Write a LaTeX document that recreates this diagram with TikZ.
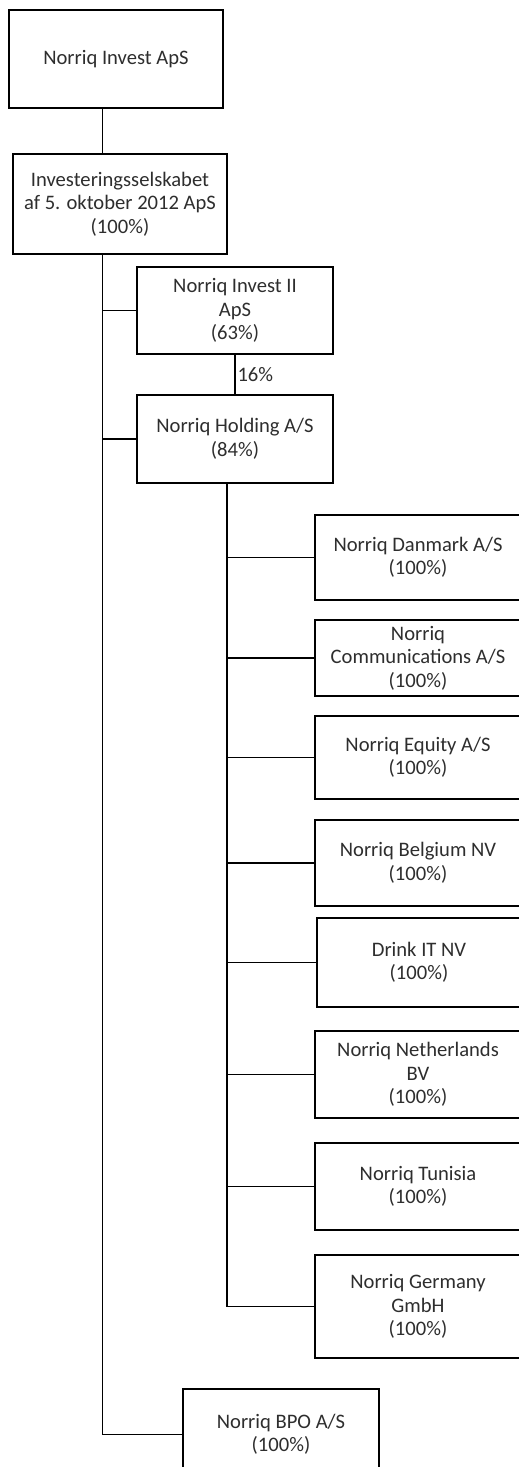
\documentclass[tikz,border=0pt]{standalone}
\usepackage{fontspec}
\setmainfont{Carlito}
\begin{document}
\begin{tikzpicture}[x=1pt,y=-1pt,
  box/.style={draw, line width=1.1pt, align=center, inner sep=0pt,
    font=\fontsize{20.6}{23.5}\selectfont, text=black!82},
  conn/.style={line width=1.1pt}]
\path[use as bounding box, clip] (0,0) rectangle (519,1467);
\fill[white] (0,0) rectangle (519,1467);
\node[box, minimum width=214pt, minimum height=98pt] (n1) at (116,59) {Norriq Invest ApS};
\node[box, minimum width=214pt, minimum height=100pt] (n2) at (120,204) {Investeringsselskabet\\af 5. oktober 2012 ApS\\(100\%)};
\node[box, minimum width=196pt, minimum height=87pt] (n3) at (235,310.5) {Norriq Invest II\\ApS\\(63\%)};
\node[box, minimum width=196pt, minimum height=88pt] (n4) at (235,439) {Norriq Holding A/S\\(84\%)};
\node[box, minimum width=206pt, minimum height=85pt] (dk) at (418,557.5) {Norriq Danmark A/S\\(100\%)};
\node[box, minimum width=206pt, minimum height=76pt] (com) at (418,658) {Norriq\\Communications A/S\\(100\%)};
\node[box, minimum width=206pt, minimum height=83pt] (eq) at (418,757.5) {Norriq Equity A/S\\(100\%)};
\node[box, minimum width=206pt, minimum height=86pt] (be) at (418,863) {Norriq Belgium NV\\(100\%)};
\node[box, minimum width=204pt, minimum height=89pt] (dr) at (419,962.5) {Drink IT NV\\(100\%)};
\node[box, minimum width=206pt, minimum height=87pt] (nl) at (418,1074.5) {Norriq Netherlands\\BV\\(100\%)};
\node[box, minimum width=206pt, minimum height=87pt] (tu) at (418,1186.5) {Norriq Tunisia\\(100\%)};
\node[box, minimum width=206pt, minimum height=103pt] (de) at (418,1306.5) {Norriq Germany\\GmbH\\(100\%)};
\node[box, minimum width=196pt, minimum height=91pt] (bpo) at (281,1434.5) {Norriq BPO A/S\\(100\%)};
\coordinate (t) at (102.5,0);
\coordinate (s) at (227,0);
\draw[conn] (n1.south -| t) -- (n2.north -| t);
\draw[conn] (n2.south -| t) -- (t |- bpo.west) -- (bpo.west);
\draw[conn] (t |- n3.west) -- (n3.west);
\draw[conn] (t |- n4.west) -- (n4.west);
\draw[conn] (n3.south) -- node[right, inner sep=2pt, font=\fontsize{20.6}{23.5}\selectfont, text=black!82] (lab) {16\%} (n4.north);
\draw[conn] (n4.south -| s) -- (s |- de.west) -- (de.west);
\foreach \c in {dk,com,eq,be,dr,nl,tu}{
  \draw[conn] (s |- \c.west) -- (\c.west);
}
\end{tikzpicture}
\end{document}
